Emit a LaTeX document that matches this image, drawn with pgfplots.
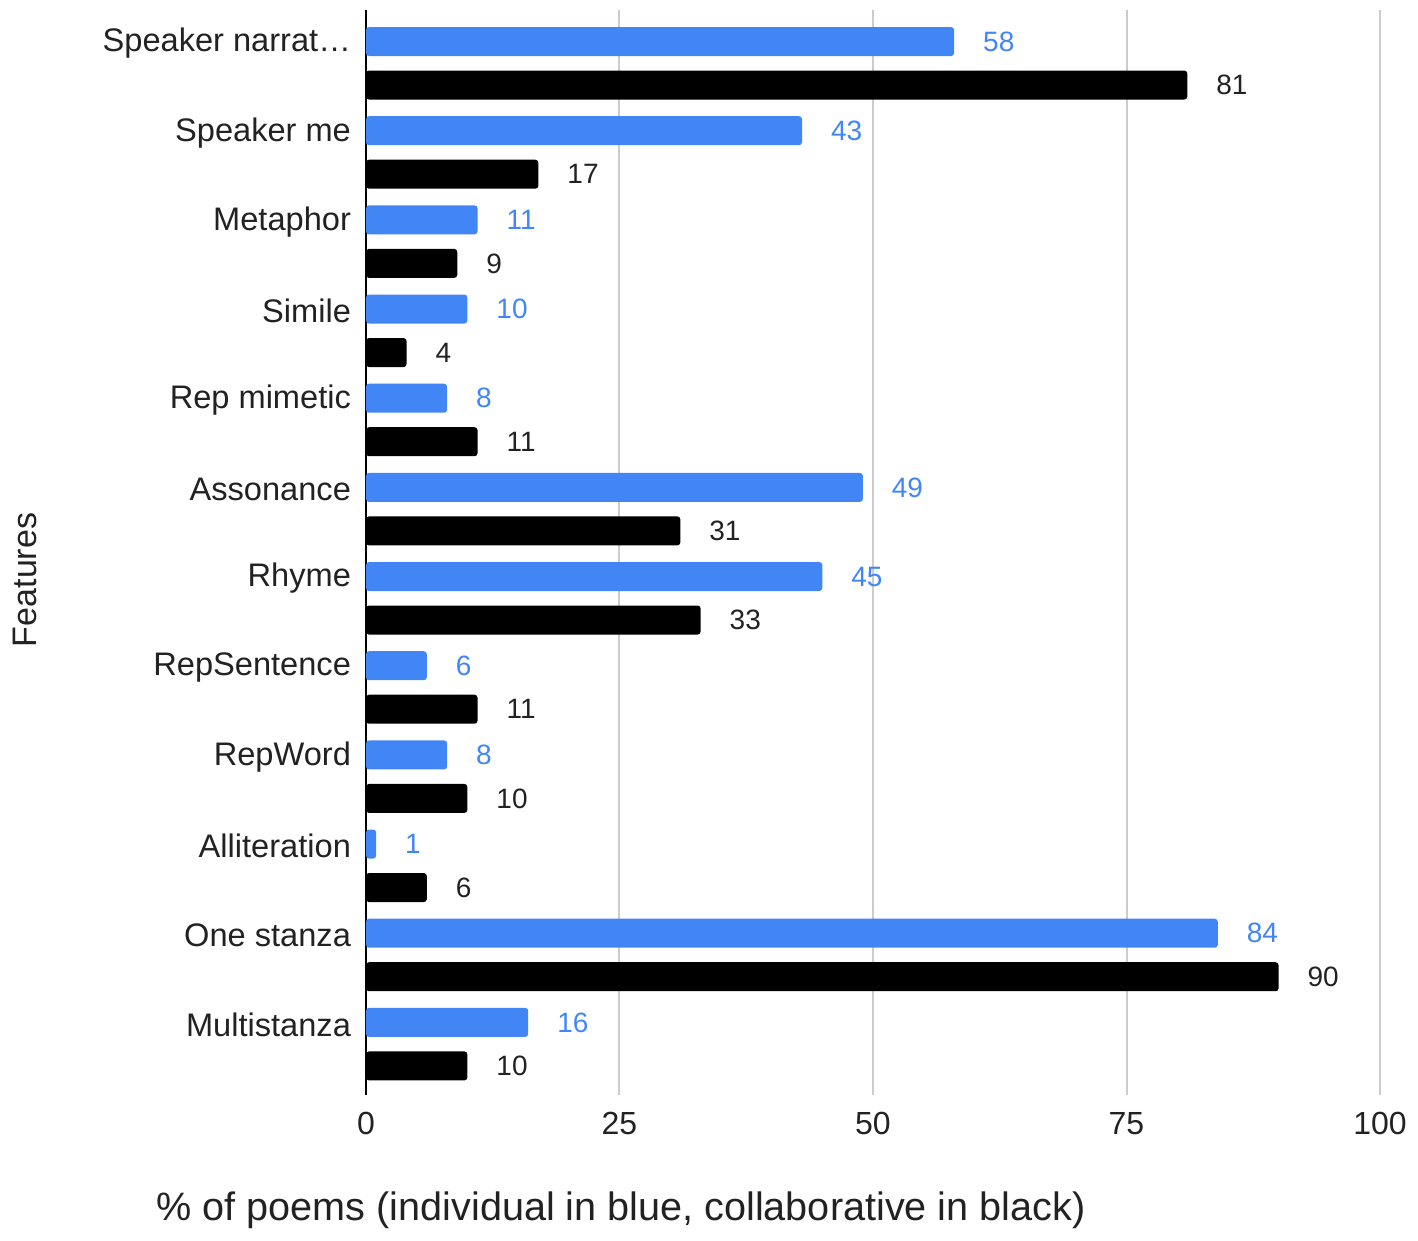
\documentclass[border=0pt]{standalone}
\usepackage{fontspec}
\setmainfont{Liberation Sans}
\usepackage{pgfplots}
\pgfplotsset{compat=1.18}
\definecolor{gblue}{HTML}{4285F4}
\definecolor{txt}{HTML}{222222}
\definecolor{gridc}{HTML}{CCCCCC}
\begin{document}
\begin{tikzpicture}
\begin{axis}[
  name=ax,
  scale only axis, width=507pt, height=542.5pt,
  xmin=0, xmax=100, ymin=-0.814, ymax=11.354,
  xbar, bar width=14.5pt,
  axis lines*=left,
  x axis line style={draw=none},
  y axis line style={line width=1pt, black},
  xtick={0,25,50,75,100},
  ytick={0,...,11},
  yticklabels={Multistanza, One stanza, Alliteration, RepWord, RepSentence, Rhyme, Assonance, Rep mimetic, Simile, Metaphor, Speaker me, Speaker narrat…},
  major tick length=0pt,
  xmajorgrids,
  major grid style={gridc, line width=1pt},
  /pgf/number format/assume math mode=true,
  tick label style={txt, font=\fontsize{16}{19}\selectfont},
  xticklabel style={yshift=-5pt},
  yticklabel style={xshift=-4pt, yshift=-1pt, font=\fontsize{16.3}{19}\selectfont},
  xlabel={\% of poems (individual in blue, collaborative in black)},
  xlabel style={at={(axis description cs:0.2515,-0.106)}, anchor=center, font=\fontsize{19.8}{23}\selectfont, txt},
  ylabel={Features},
  ylabel style={at={(axis description cs:-0.3363,0.4747)}, anchor=center, font=\fontsize{17}{20}\selectfont, txt},
  point meta=x,
]
\addplot[fill=gblue, draw=none, rounded corners=1.5pt, bar shift=0pt,
  nodes near coords,
  nodes near coords style={gblue, anchor=west, xshift=11pt, font=\fontsize{14}{16}\selectfont}]
  coordinates {(58,11) (43,10) (11,9) (10,8) (8,7) (49,6) (45,5) (6,4) (8,3) (1,2) (84,1) (16,0)};
\addplot[fill=black, draw=none, rounded corners=1.5pt, bar shift=-21.75pt,
  nodes near coords,
  nodes near coords style={txt, anchor=west, xshift=11pt, font=\fontsize{14}{16}\selectfont}]
  coordinates {(81,11) (17,10) (9,9) (4,8) (11,7) (31,6) (33,5) (11,4) (10,3) (6,2) (90,1) (10,0)};
\end{axis}
\pgfresetboundingbox
\path[use as bounding box] ([shift={(-183pt,-73pt)}]ax.south west) rectangle ([shift={(526pt,547.5pt)}]ax.south west);
\end{tikzpicture}
\end{document}
